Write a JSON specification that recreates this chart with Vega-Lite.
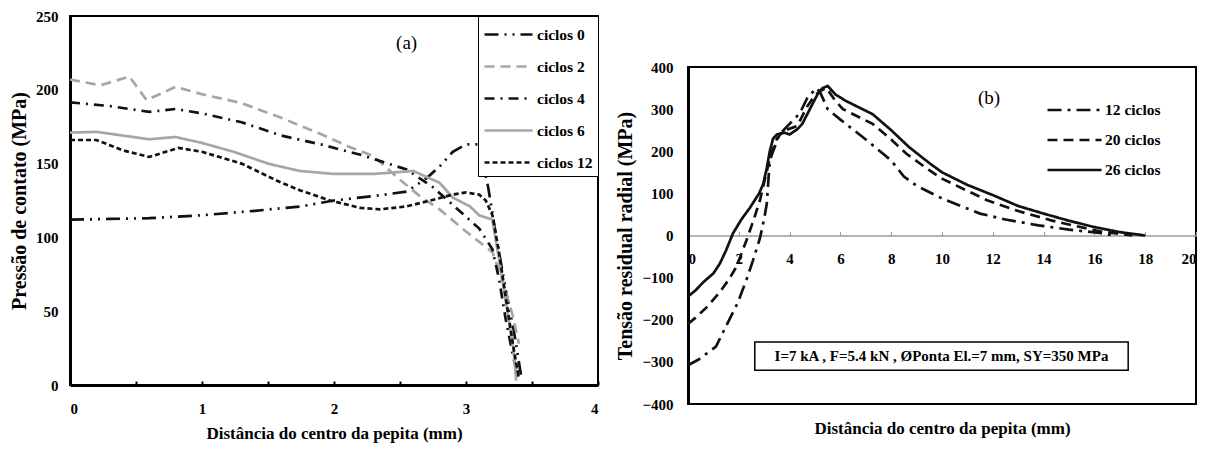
{
"$schema": "https://vega.github.io/schema/vega-lite/v6.json",
"background": "white",
"padding": {"left": 8, "top": 8, "right": 5, "bottom": 2},
"spacing": 14,
"resolve": {"scale": {"color": "independent", "strokeDash": "independent"}, "legend": {"color": "independent", "strokeDash": "independent"}},
"config": {
  "font": "Liberation Serif",
  "view": {"stroke": "black", "strokeWidth": 2},
  "axis": {"labelFont": "Liberation Serif", "labelFontWeight": "bold", "labelFontSize": 15, "labelColor": "black", "titleFont": "Liberation Serif", "titleFontWeight": "bold", "titleFontSize": 17, "titleColor": "black", "grid": false, "domainColor": "black"},
  "legend": {"labelFont": "Liberation Serif", "labelFontWeight": "bold", "labelFontSize": 15.5, "labelColor": "black"}
},
"datasets": {
  "a": [
    {"s":"ciclos 0","x":0,"y":112},{"s":"ciclos 0","x":0.3,"y":112.5},{"s":"ciclos 0","x":0.6,"y":113},{"s":"ciclos 0","x":1.0,"y":115},{"s":"ciclos 0","x":1.4,"y":118},{"s":"ciclos 0","x":1.75,"y":121},{"s":"ciclos 0","x":2.0,"y":125},{"s":"ciclos 0","x":2.3,"y":128},{"s":"ciclos 0","x":2.55,"y":131},{"s":"ciclos 0","x":2.7,"y":140},{"s":"ciclos 0","x":2.8,"y":148},{"s":"ciclos 0","x":2.9,"y":158},{"s":"ciclos 0","x":3.0,"y":163},{"s":"ciclos 0","x":3.1,"y":163},{"s":"ciclos 0","x":3.17,"y":133},{"s":"ciclos 0","x":3.22,"y":105},{"s":"ciclos 0","x":3.3,"y":65},{"s":"ciclos 0","x":3.36,"y":38},{"s":"ciclos 0","x":3.42,"y":5},
    {"s":"ciclos 2","x":0,"y":207},{"s":"ciclos 2","x":0.23,"y":203},{"s":"ciclos 2","x":0.45,"y":209},{"s":"ciclos 2","x":0.58,"y":193},{"s":"ciclos 2","x":0.8,"y":202},{"s":"ciclos 2","x":1.0,"y":197},{"s":"ciclos 2","x":1.3,"y":191},{"s":"ciclos 2","x":1.6,"y":181},{"s":"ciclos 2","x":1.9,"y":170},{"s":"ciclos 2","x":2.1,"y":162},{"s":"ciclos 2","x":2.3,"y":155},{"s":"ciclos 2","x":2.5,"y":139},{"s":"ciclos 2","x":2.65,"y":128},{"s":"ciclos 2","x":2.8,"y":119},{"s":"ciclos 2","x":3.0,"y":104},{"s":"ciclos 2","x":3.1,"y":97},{"s":"ciclos 2","x":3.2,"y":90},{"s":"ciclos 2","x":3.28,"y":70},{"s":"ciclos 2","x":3.36,"y":45},{"s":"ciclos 2","x":3.4,"y":28},
    {"s":"ciclos 4","x":0,"y":191.5},{"s":"ciclos 4","x":0.3,"y":189},{"s":"ciclos 4","x":0.6,"y":185},{"s":"ciclos 4","x":0.8,"y":187},{"s":"ciclos 4","x":1.0,"y":184},{"s":"ciclos 4","x":1.3,"y":178},{"s":"ciclos 4","x":1.6,"y":169},{"s":"ciclos 4","x":1.9,"y":163},{"s":"ciclos 4","x":2.2,"y":156},{"s":"ciclos 4","x":2.55,"y":146},{"s":"ciclos 4","x":2.75,"y":134},{"s":"ciclos 4","x":2.9,"y":122},{"s":"ciclos 4","x":3.0,"y":114},{"s":"ciclos 4","x":3.1,"y":106},{"s":"ciclos 4","x":3.2,"y":92},{"s":"ciclos 4","x":3.25,"y":72},{"s":"ciclos 4","x":3.3,"y":45},{"s":"ciclos 4","x":3.36,"y":18},{"s":"ciclos 4","x":3.4,"y":5},
    {"s":"ciclos 6","x":0,"y":171},{"s":"ciclos 6","x":0.2,"y":171.5},{"s":"ciclos 6","x":0.6,"y":166.5},{"s":"ciclos 6","x":0.8,"y":168},{"s":"ciclos 6","x":1.0,"y":164},{"s":"ciclos 6","x":1.24,"y":158},{"s":"ciclos 6","x":1.5,"y":150},{"s":"ciclos 6","x":1.74,"y":145},{"s":"ciclos 6","x":2.0,"y":143},{"s":"ciclos 6","x":2.3,"y":143},{"s":"ciclos 6","x":2.6,"y":145},{"s":"ciclos 6","x":2.8,"y":137},{"s":"ciclos 6","x":2.9,"y":127},{"s":"ciclos 6","x":3.03,"y":121},{"s":"ciclos 6","x":3.1,"y":115},{"s":"ciclos 6","x":3.2,"y":112},{"s":"ciclos 6","x":3.26,"y":80},{"s":"ciclos 6","x":3.36,"y":24},{"s":"ciclos 6","x":3.38,"y":3},
    {"s":"ciclos 12","x":0,"y":166},{"s":"ciclos 12","x":0.2,"y":166},{"s":"ciclos 12","x":0.4,"y":159},{"s":"ciclos 12","x":0.6,"y":154.5},{"s":"ciclos 12","x":0.82,"y":160.6},{"s":"ciclos 12","x":1.0,"y":158},{"s":"ciclos 12","x":1.3,"y":150},{"s":"ciclos 12","x":1.59,"y":137.5},{"s":"ciclos 12","x":1.74,"y":132},{"s":"ciclos 12","x":1.97,"y":125},{"s":"ciclos 12","x":2.2,"y":120},{"s":"ciclos 12","x":2.35,"y":119},{"s":"ciclos 12","x":2.55,"y":121},{"s":"ciclos 12","x":2.73,"y":125},{"s":"ciclos 12","x":2.9,"y":129},{"s":"ciclos 12","x":3.0,"y":130.5},{"s":"ciclos 12","x":3.1,"y":129},{"s":"ciclos 12","x":3.15,"y":125},{"s":"ciclos 12","x":3.2,"y":115},{"s":"ciclos 12","x":3.25,"y":90},{"s":"ciclos 12","x":3.3,"y":60},{"s":"ciclos 12","x":3.36,"y":25},{"s":"ciclos 12","x":3.4,"y":5}
  ],
  "b": [
    {"s":"26 ciclos","x":0,"y":-145},{"s":"26 ciclos","x":0.3,"y":-130},{"s":"26 ciclos","x":0.6,"y":-111},{"s":"26 ciclos","x":1.0,"y":-90},{"s":"26 ciclos","x":1.26,"y":-66},{"s":"26 ciclos","x":1.5,"y":-35},{"s":"26 ciclos","x":1.77,"y":5},{"s":"26 ciclos","x":2.1,"y":38},{"s":"26 ciclos","x":2.44,"y":66},{"s":"26 ciclos","x":2.8,"y":100},{"s":"26 ciclos","x":2.96,"y":122},{"s":"26 ciclos","x":3.1,"y":160},{"s":"26 ciclos","x":3.22,"y":200},{"s":"26 ciclos","x":3.35,"y":230},{"s":"26 ciclos","x":3.5,"y":240},{"s":"26 ciclos","x":3.8,"y":244},{"s":"26 ciclos","x":4.0,"y":240},{"s":"26 ciclos","x":4.3,"y":252},{"s":"26 ciclos","x":4.5,"y":265},{"s":"26 ciclos","x":4.9,"y":312},{"s":"26 ciclos","x":5.1,"y":335},{"s":"26 ciclos","x":5.3,"y":350},{"s":"26 ciclos","x":5.5,"y":355},{"s":"26 ciclos","x":5.8,"y":335},{"s":"26 ciclos","x":6.2,"y":320},{"s":"26 ciclos","x":6.8,"y":302},{"s":"26 ciclos","x":7.27,"y":288},{"s":"26 ciclos","x":8,"y":250},{"s":"26 ciclos","x":8.7,"y":210},{"s":"26 ciclos","x":9.5,"y":172},{"s":"26 ciclos","x":10,"y":150},{"s":"26 ciclos","x":11,"y":120},{"s":"26 ciclos","x":12,"y":96},{"s":"26 ciclos","x":13,"y":70},{"s":"26 ciclos","x":14,"y":52},{"s":"26 ciclos","x":15,"y":35},{"s":"26 ciclos","x":16,"y":20},{"s":"26 ciclos","x":17,"y":8},{"s":"26 ciclos","x":18,"y":0},
    {"s":"20 ciclos","x":0,"y":-210},{"s":"20 ciclos","x":0.3,"y":-195},{"s":"20 ciclos","x":0.74,"y":-170},{"s":"20 ciclos","x":1.26,"y":-134},{"s":"20 ciclos","x":1.6,"y":-105},{"s":"20 ciclos","x":1.9,"y":-75},{"s":"20 ciclos","x":2.3,"y":-12},{"s":"20 ciclos","x":2.6,"y":40},{"s":"20 ciclos","x":2.83,"y":83},{"s":"20 ciclos","x":3.05,"y":140},{"s":"20 ciclos","x":3.23,"y":185},{"s":"20 ciclos","x":3.5,"y":230},{"s":"20 ciclos","x":3.75,"y":248},{"s":"20 ciclos","x":4.3,"y":260},{"s":"20 ciclos","x":4.7,"y":307},{"s":"20 ciclos","x":5.0,"y":333},{"s":"20 ciclos","x":5.2,"y":343},{"s":"20 ciclos","x":5.45,"y":350},{"s":"20 ciclos","x":5.8,"y":320},{"s":"20 ciclos","x":6.1,"y":300},{"s":"20 ciclos","x":6.7,"y":282},{"s":"20 ciclos","x":7.27,"y":265},{"s":"20 ciclos","x":8,"y":228},{"s":"20 ciclos","x":8.6,"y":194},{"s":"20 ciclos","x":9.5,"y":155},{"s":"20 ciclos","x":10,"y":135},{"s":"20 ciclos","x":11,"y":106},{"s":"20 ciclos","x":11.8,"y":83},{"s":"20 ciclos","x":13,"y":58},{"s":"20 ciclos","x":14.3,"y":36},{"s":"20 ciclos","x":15,"y":26},{"s":"20 ciclos","x":16.2,"y":10},{"s":"20 ciclos","x":17.5,"y":0},
    {"s":"12 ciclos","x":0,"y":-308},{"s":"12 ciclos","x":0.4,"y":-295},{"s":"12 ciclos","x":0.74,"y":-280},{"s":"12 ciclos","x":1.1,"y":-264},{"s":"12 ciclos","x":1.5,"y":-215},{"s":"12 ciclos","x":1.97,"y":-158},{"s":"12 ciclos","x":2.3,"y":-105},{"s":"12 ciclos","x":2.56,"y":-59},{"s":"12 ciclos","x":2.83,"y":-7},{"s":"12 ciclos","x":3.0,"y":40},{"s":"12 ciclos","x":3.1,"y":75},{"s":"12 ciclos","x":3.22,"y":178},{"s":"12 ciclos","x":3.35,"y":200},{"s":"12 ciclos","x":3.6,"y":240},{"s":"12 ciclos","x":4.0,"y":265},{"s":"12 ciclos","x":4.4,"y":290},{"s":"12 ciclos","x":4.7,"y":327},{"s":"12 ciclos","x":5.06,"y":350},{"s":"12 ciclos","x":5.2,"y":340},{"s":"12 ciclos","x":5.5,"y":300},{"s":"12 ciclos","x":6,"y":275},{"s":"12 ciclos","x":7,"y":228},{"s":"12 ciclos","x":8,"y":178},{"s":"12 ciclos","x":8.5,"y":140},{"s":"12 ciclos","x":9,"y":118},{"s":"12 ciclos","x":10,"y":88},{"s":"12 ciclos","x":11.5,"y":52},{"s":"12 ciclos","x":12.5,"y":38},{"s":"12 ciclos","x":13.8,"y":24},{"s":"12 ciclos","x":15,"y":14},{"s":"12 ciclos","x":16.2,"y":6},{"s":"12 ciclos","x":16.8,"y":0}
  ]
},
"hconcat": [
  {
    "width": 528, "height": 369,
    "layer": [
      {
        "data": {"name": "a"},
        "mark": {"type": "line", "strokeWidth": 2.7},
        "encoding": {
          "x": {"field": "x", "type": "quantitative", "scale": {"domain": [0, 4], "nice": false},
                "axis": {"title": "Distância do centro da pepita (mm)", "values": [0,0.5,1,1.5,2,2.5,3,3.5,4], "labelExpr": "datum.value % 1 === 0 ? '' + datum.value : ''", "tickSize": -4, "tickWidth": 2, "tickColor": "black", "domainWidth": 3, "labelPadding": 20, "titlePadding": 9}},
          "y": {"field": "y", "type": "quantitative", "scale": {"domain": [0, 250], "nice": false},
                "axis": {"title": "Pressão de contato (MPa)", "titleFontSize": 20, "values": [0,50,100,150,200,250], "ticks": false, "domainWidth": 3, "labelPadding": 12, "titlePadding": 6}},
          "color": {"field": "s", "type": "nominal",
                    "scale": {"domain": ["ciclos 0","ciclos 2","ciclos 4","ciclos 6","ciclos 12"], "range": ["#111111","#a6a6a6","#111111","#a6a6a6","#111111"]},
                    "legend": {"title": null, "orient": "top-right", "offset": 0, "strokeColor": "black", "fillColor": "white", "padding": 5, "symbolType": "M-1,0H3", "symbolSize": 576, "symbolStrokeWidth": 2.7, "labelOffset": 27, "rowPadding": 10}},
          "strokeDash": {"field": "s", "type": "nominal",
                    "scale": {"domain": ["ciclos 0","ciclos 2","ciclos 4","ciclos 6","ciclos 12"], "range": [[14,6,2,6,2,6],[10,6],[10,6,2,6],[1,0],[5,3]]},
                    "legend": {"title": null, "orient": "top-right", "offset": 0, "strokeColor": "black", "fillColor": "white", "padding": 5, "symbolType": "M-1,0H3", "symbolSize": 576, "symbolStrokeWidth": 2.7, "labelOffset": 27, "rowPadding": 10}}
        }
      },
      {
        "data": {"values": [{}]},
        "mark": {"type": "text", "font": "Liberation Serif", "fontSize": 19, "color": "black"},
        "encoding": {"x": {"datum": 2.55, "type": "quantitative"}, "y": {"datum": 232, "type": "quantitative"}, "text": {"value": "(a)"}}
      }
    ]
  },
  {
    "spacing": 0,
    "vconcat": [
      {
        "width": 508, "height": 43,
        "view": {"stroke": null},
        "data": {"values": [{}]},
        "mark": {"type": "point", "opacity": 0},
        "encoding": {}
      },
      {
        "width": 508, "height": 337,
        "layer": [
          {
            "data": {"values": [{}]},
            "mark": {"type": "rect", "fill": "white", "stroke": "black", "strokeWidth": 1.5},
            "encoding": {"x": {"datum": 2.63, "type": "quantitative"}, "x2": {"datum": 17.33}, "y": {"datum": -253, "type": "quantitative"}, "y2": {"datum": -320}}
          },
          {
            "data": {"name": "b"},
            "mark": {"type": "line", "strokeWidth": 2.7, "color": "#111111"},
            "encoding": {
              "x": {"field": "x", "type": "quantitative", "scale": {"domain": [0, 20], "nice": false},
                    "axis": {"title": "Distância do centro da pepita (mm)", "values": [0,1,2,3,4,5,6,7,8,9,10,11,12,13,14,15,16,17,18,19,20], "labelExpr": "datum.value % 2 === 0 ? datum.label : ''", "offset": -168.5, "domainColor": "#9a9a9a", "domainWidth": 1.5, "tickColor": "#9a9a9a", "tickSize": -4, "labelPadding": 20, "titleY": 185, "titleBaseline": "top"}},
              "y": {"field": "y", "type": "quantitative", "scale": {"domain": [-400, 400], "nice": false},
                    "axis": {"title": "Tensão residual radial (MPa)", "titleFontSize": 20, "values": [-400,-300,-200,-100,0,100,200,300,400], "ticks": false, "domainWidth": 3, "labelPadding": 15, "titlePadding": 6}},
              "strokeDash": {"field": "s", "type": "nominal",
                        "scale": {"domain": ["12 ciclos","20 ciclos","26 ciclos"], "range": [[14,6,3,6],[10,6],[1,0]]},
                        "legend": {"title": null, "orient": "none", "legendX": 358, "legendY": 79, "symbolType": "M-1,0H3", "symbolSize": 729, "symbolStrokeWidth": 2.7, "symbolStrokeColor": "#111111", "labelOffset": 29, "rowPadding": 6}}
            }
          },
          {
            "data": {"values": [{}]},
            "mark": {"type": "text", "font": "Liberation Serif", "fontSize": 15, "fontWeight": "bold", "color": "black"},
            "encoding": {"x": {"datum": 9.98, "type": "quantitative"}, "y": {"datum": -287, "type": "quantitative"}, "text": {"value": "I=7 kA , F=5.4 kN , ØPonta El.=7 mm, SY=350 MPa"}}
          },
          {
            "data": {"values": [{}]},
            "mark": {"type": "text", "font": "Liberation Serif", "fontSize": 19, "color": "black"},
            "encoding": {"x": {"datum": 11.85, "type": "quantitative"}, "y": {"datum": 327, "type": "quantitative"}, "text": {"value": "(b)"}}
          }
        ]
      }
    ]
  }
]
}
